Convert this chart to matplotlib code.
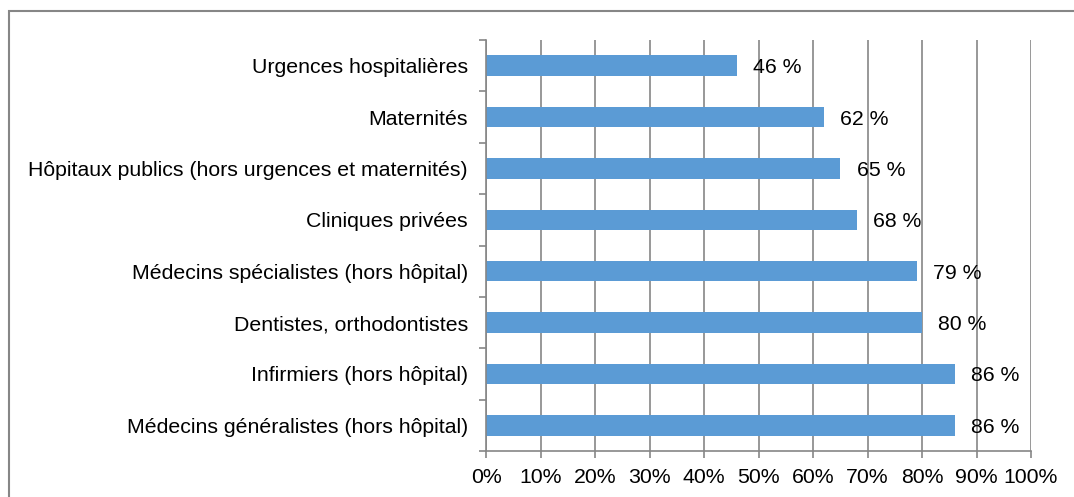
import numpy as np
import matplotlib.pyplot as plt
from matplotlib.patches import Rectangle

categories = ['Médecins généralistes (hors hôpital)',
              'Infirmiers (hors hôpital)',
              'Dentistes, orthodontistes',
              'Médecins spécialistes (hors hôpital)',
              'Cliniques privées',
              'Hôpitaux publics (hors urgences et maternités)',
              'Maternités',
              'Urgences hospitalières']
values = [86, 86, 80, 79, 68, 65, 62, 46]
xticks = [0, 10, 20, 30, 40, 50, 60, 70, 80, 90, 100]

plt.rcParams['font.family'] = ['Liberation Sans', 'DejaVu Sans']
grey = '#868686'
fs = 15.3

fig = plt.figure(figsize=(10.74, 4.97), dpi=100)
ax = fig.add_axes([486/1074, 1-451/497, (1031-486)/1074, (451-40)/497])

# cadre extérieur
fig.patches.append(Rectangle((9/1074, -0.1), 1.2, 1.1-11/497, transform=fig.transFigure,
                             fill=False, edgecolor=grey, lw=1.5))

y = np.arange(len(categories))
ax.barh(y, values, height=0.4, color='#5B9BD5', zorder=3)
for yi, v in zip(y, values):
    ax.text(v + 3, yi, f'{v} %', va='center_baseline', ha='left', fontsize=fs, zorder=4)

ax.set_xlim(0, 100)
ax.set_ylim(-0.5, len(categories) - 0.5)
ax.set_xticks(xticks)
ax.set_xticklabels([f'{t}%' for t in xticks], fontsize=fs)
ax.set_yticks(y)
ax.set_yticklabels(categories, fontsize=fs)
ax.set_yticks(np.arange(-0.5, len(categories)), minor=True)
ax.tick_params(axis='y', which='major', length=0, pad=13)
ax.tick_params(axis='y', which='minor', length=5, color=grey, width=1.2)
ax.tick_params(axis='x', length=5, color=grey, width=1.2, pad=7)
ax.grid(axis='x', color=grey, lw=1.2, zorder=0)

for s in ['top', 'right']:
    ax.spines[s].set_visible(False)
for s in ['left', 'bottom']:
    ax.spines[s].set_color(grey)
    ax.spines[s].set_linewidth(1.2)
    ax.spines[s].set_zorder(5)

fig.savefig('out.png', dpi=100)
